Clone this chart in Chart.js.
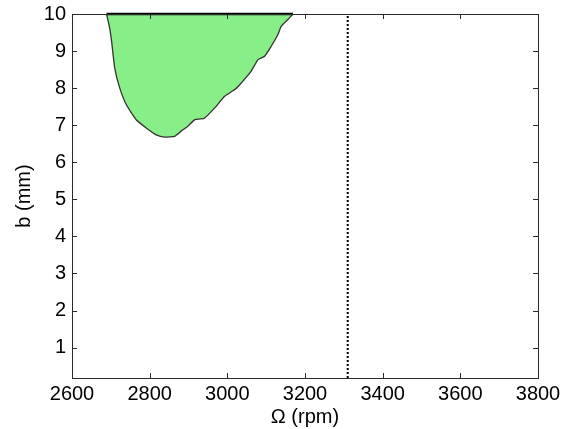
<!DOCTYPE html>
<html>
<head>
<meta charset="utf-8">
<script src="https://cdn.jsdelivr.net/npm/chart.js@4.4.1/dist/chart.umd.min.js"></script>
<style>
  html, body { margin: 0; padding: 0; background: #ffffff; }
  #wrap { width: 569px; height: 429px; }
</style>
</head>
<body>
<div id="wrap"><canvas id="c" width="569" height="429"></canvas></div>
<script>
// Lower boundary of the unstable (chatter) lobe: spindle speed (rpm) vs depth b (mm)
const lobeRpm = [2689, 2697, 2702, 2710, 2723, 2740, 2766, 2792, 2817, 2839, 2864, 2881, 2899, 2916, 2930, 2941, 2967, 2993, 3019, 3036, 3061, 3079, 3096, 3113, 3130, 3139, 3156, 3169];
const lobeB   = [10, 9.62, 9.26, 8.54, 8.00, 7.55, 7.14, 6.92, 6.74, 6.68, 6.70, 6.84, 6.98, 7.15, 7.17, 7.19, 7.46, 7.78, 7.96, 8.14, 8.45, 8.77, 8.86, 9.13, 9.44, 9.67, 9.85, 10];

// Reference speed marker
const markerRpm = [3310, 3310];
const markerB = [0.18, 10];

// Axis ranges and ticks
const xRange = [2600, 3800];
const yRange = [0.18, 10];
const xTicks = [2600, 2800, 3000, 3200, 3400, 3600, 3800];
const yTicks = [1, 2, 3, 4, 5, 6, 7, 8, 9, 10];

const toPoints = (xs, ys) => xs.map((x, i) => ({ x: x, y: ys[i] }));

const FONT = "'Liberation Sans', Arial, sans-serif";
const FSIZE = 20;

// MATLAB-style frame with inward tick marks on all four sides
const framePlugin = {
  id: 'frame',
  afterDraw(chart) {
    const { ctx, chartArea: a, scales } = chart;
    const len = 5;
    ctx.save();
    ctx.strokeStyle = '#2b2b2b';
    ctx.lineWidth = 1;
    ctx.beginPath();
    xTicks.forEach(v => {
      const px = Math.round(scales.x.getPixelForValue(v)) + 0.5;
      ctx.moveTo(px, a.bottom); ctx.lineTo(px, a.bottom - len);
      ctx.moveTo(px, a.top); ctx.lineTo(px, a.top + len);
    });
    yTicks.forEach(v => {
      const py = Math.round(scales.y.getPixelForValue(v)) + 0.5;
      ctx.moveTo(a.left, py); ctx.lineTo(a.left + len, py);
      ctx.moveTo(a.right, py); ctx.lineTo(a.right - len, py);
    });
    ctx.stroke();
    ctx.strokeRect(Math.round(a.left) + 0.5, Math.round(a.top) + 0.5,
                   Math.round(a.right - a.left), Math.round(a.bottom - a.top));
    ctx.restore();
  }
};

new Chart(document.getElementById('c'), {
  type: 'line',
  data: {
    datasets: [
      {
        // unstable lobe, filled up to the top of the axis
        data: toPoints(lobeRpm, lobeB),
        borderColor: '#333333',
        borderWidth: 1.3,
        backgroundColor: '#88ee88',
        fill: 'end',
        pointRadius: 0,
        tension: 0.15,
        order: 3
      },
      {
        // lobe edge along the top limit
        data: toPoints([lobeRpm[0], lobeRpm[lobeRpm.length - 1]], [10, 10]),
        borderColor: '#000000',
        borderWidth: 2.5,
        fill: false,
        pointRadius: 0,
        clip: false,
        order: 1
      },
      {
        data: toPoints(markerRpm, markerB),
        borderColor: '#000000',
        borderWidth: 2,
        borderDash: [2, 2],
        fill: false,
        pointRadius: 0,
        order: 2
      }
    ]
  },
  options: {
    responsive: false,
    animation: false,
    devicePixelRatio: 1,
    layout: { padding: { top: 14, right: 31, left: 12, bottom: 0 } },
    plugins: {
      legend: { display: false },
      tooltip: { enabled: false }
    },
    scales: {
      x: {
        type: 'linear',
        min: xRange[0],
        max: xRange[1],
        afterBuildTicks: s => { s.ticks = xTicks.map(v => ({ value: v })); },
        afterFit: s => { s.height = 51; },
        grid: { display: false, drawTicks: false },
        border: { display: false },
        ticks: {
          color: '#000000',
          font: { family: FONT, size: FSIZE },
          padding: 4,
          maxRotation: 0,
          callback: v => String(v)
        },
        title: {
          display: true,
          text: 'Ω (rpm)',
          color: '#000000',
          font: { family: FONT, size: FSIZE },
          padding: { top: 2, bottom: 0 }
        }
      },
      y: {
        type: 'linear',
        min: yRange[0],
        max: yRange[1],
        afterBuildTicks: s => { s.ticks = yTicks.map(v => ({ value: v })); },
        afterFit: s => { s.width = 60; s.paddingTop = 0; },
        grid: { display: false, drawTicks: false },
        border: { display: false },
        ticks: {
          color: '#000000',
          font: { family: FONT, size: FSIZE, lineHeight: 0.9 },
          padding: 6,
          callback: v => String(v)
        },
        title: {
          display: true,
          text: 'b (mm)',
          color: '#000000',
          font: { family: FONT, size: FSIZE },
          padding: { top: 0, bottom: 0 }
        }
      }
    }
  },
  plugins: [framePlugin]
});
</script>
</body>
</html>
